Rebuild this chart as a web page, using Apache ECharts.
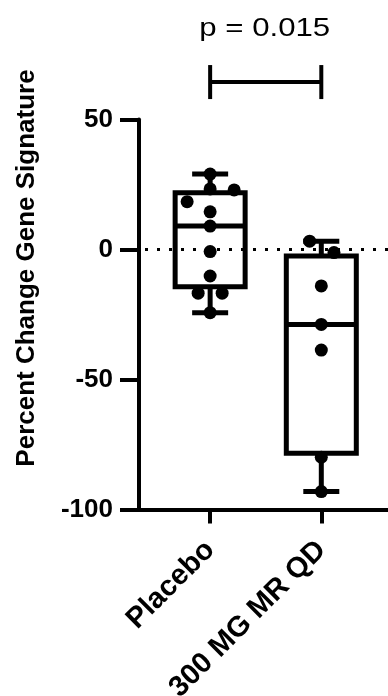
<!DOCTYPE html>
<html>
<head>
<meta charset="utf-8">
<script src="https://cdn.jsdelivr.net/npm/echarts@6/dist/echarts.min.js"></script>
<style>
  html, body { margin: 0; padding: 0; background: #fff; }
</style>
</head>
<body>
<div id="myChart" style="width: 388px; height: 696px"></div>
<script>
// groups (x position 1 and 2 on the value axis)
var groupNames = ['Placebo', '300 MG MR QD'];
var groupPos = [1, 2];

// box stats: [min, Q1, median, Q3, max]
var placeboBox = [-24.3, -14.3, 9, 21.8, 29];
var mrBox = [-93.1, -78.4, -28.8, -2.5, 3.2];

// individual points (value) and their jittered x
var placeboValues = [29, 23.3, 22.9, 18.4, 14.5, 9, -0.8, -10.2, -16.8, -16.8, -24.3];
var placeboX = [1, 1, 1.216, 0.793, 1, 1, 1, 1, 0.892, 1.108, 1];
var mrValues = [3.2, -1.2, -14, -28.8, -38.7, -79.9, -93.1];
var mrX = [1.895, 2.114, 2, 2, 2, 2, 2];

// y axis ticks
var yTicks = [-100, -50, 0, 50];

// significance bracket
var bracketY = 64.4;
var pLabel = 'p = 0.015';

var FONT = "'Liberation Sans', Arial, sans-serif";

const myChartDrawer = echarts.init(document.getElementById('myChart'));

var boxData = [
  [groupPos[0]].concat(placeboBox),
  [groupPos[1]].concat(mrBox),
];
var pointData = [];
placeboValues.forEach(function (v, i) { pointData.push([placeboX[i], v]); });
mrValues.forEach(function (v, i) { pointData.push([mrX[i], v]); });

const option = {
  animation: false,
  grid: {
    left: 139,
    right: 0,
    top: 119.5,
    bottom: 186.5,
    containLabel: false,
    outerBoundsMode: 'none',
  },
  graphic: [
    {
      type: 'text',
      x: 27,
      y: 268,
      rotation: Math.PI / 2,
      style: {
        text: 'Percent Change Gene Signature',
        fill: '#000',
        font: 'bold 26px ' + FONT,
        align: 'center',
        verticalAlign: 'middle',
      },
    },
  ],
  xAxis: {
    type: 'value',
    min: 0.36,
    max: 2.6,
    splitLine: { show: false },
    axisLine: { onZero: false, lineStyle: { color: '#000', width: 4 } },
    axisTick: {
      customValues: groupPos,
      length: 14,
      lineStyle: { color: '#000', width: 4 },
    },
    axisLabel: {
      customValues: groupPos,
      rotate: 45,
      margin: 36,
      color: '#000',
      fontFamily: FONT,
      fontWeight: 'bold',
      fontSize: 29,
      formatter: function (v) {
        return groupNames[groupPos.indexOf(Math.round(v))] || '';
      },
    },
  },
  yAxis: {
    type: 'value',
    min: yTicks[0],
    max: yTicks[yTicks.length - 1],
    interval: 50,
    splitLine: { show: false },
    axisLine: { show: true, onZero: false, lineStyle: { color: '#000', width: 4 } },
    axisTick: { show: true, length: 19, lineStyle: { color: '#000', width: 4 } },
    axisLabel: {
      margin: 26,
      color: '#000',
      fontFamily: FONT,
      fontWeight: 'bold',
      fontSize: 26,
    },
  },
  series: [
    {
      // box + whiskers
      type: 'custom',
      data: boxData,
      z: 2,
      renderItem: function (params, api) {
        var x = api.value(0);
        var pMin = api.coord([x, api.value(1)]);
        var pQ1 = api.coord([x, api.value(2)]);
        var pMed = api.coord([x, api.value(3)]);
        var pQ3 = api.coord([x, api.value(4)]);
        var pMax = api.coord([x, api.value(5)]);
        var cx = pMed[0];
        var hw = 35; // half box width
        var cw = 18; // half cap width
        var st = { stroke: '#000', lineWidth: 5, fill: null };
        return {
          type: 'group',
          children: [
            { type: 'rect', shape: { x: cx - hw, y: pQ3[1], width: hw * 2, height: pQ1[1] - pQ3[1] }, style: st },
            { type: 'line', shape: { x1: cx - hw, y1: pMed[1], x2: cx + hw, y2: pMed[1] }, style: st },
            { type: 'line', shape: { x1: cx, y1: pQ3[1], x2: cx, y2: pMax[1] }, style: st },
            { type: 'line', shape: { x1: cx, y1: pQ1[1], x2: cx, y2: pMin[1] }, style: st },
            { type: 'line', shape: { x1: cx - cw, y1: pMax[1], x2: cx + cw, y2: pMax[1] }, style: st },
            { type: 'line', shape: { x1: cx - cw, y1: pMin[1], x2: cx + cw, y2: pMin[1] }, style: st },
          ],
        };
      },
      markLine: {
        silent: true,
        symbol: 'none',
        label: { show: false },
        lineStyle: { color: '#000', width: 3, type: [3, 9], dashOffset: -6 },
        data: [{ yAxis: 0 }],
      },
    },
    {
      type: 'scatter',
      data: pointData,
      symbol: 'circle',
      symbolSize: 13,
      z: 3,
      itemStyle: { color: '#000', opacity: 1 },
    },
    {
      // significance bracket with p value
      type: 'custom',
      clip: false,
      data: [[groupPos[0], groupPos[1], bracketY]],
      renderItem: function (params, api) {
        var a = api.coord([api.value(0), api.value(2)]);
        var b = api.coord([api.value(1), api.value(2)]);
        var st = { stroke: '#000', lineWidth: 4, fill: null };
        return {
          type: 'group',
          children: [
            { type: 'line', shape: { x1: a[0], y1: a[1], x2: b[0], y2: b[1] }, style: st },
            { type: 'line', shape: { x1: a[0], y1: a[1] - 17, x2: a[0], y2: a[1] + 17 }, style: st },
            { type: 'line', shape: { x1: b[0], y1: b[1] - 17, x2: b[0], y2: b[1] + 17 }, style: st },
            {
              type: 'text',
              x: (a[0] + b[0]) / 2 - 1,
              y: a[1] - 53,
              scaleX: 1.2,
              style: {
                text: pLabel,
                fill: '#000',
                font: '26px ' + FONT,
                align: 'center',
                verticalAlign: 'middle',
              },
            },
          ],
        };
      },
    },
  ],
};
myChartDrawer.setOption(option);
</script>
</body>
</html>
